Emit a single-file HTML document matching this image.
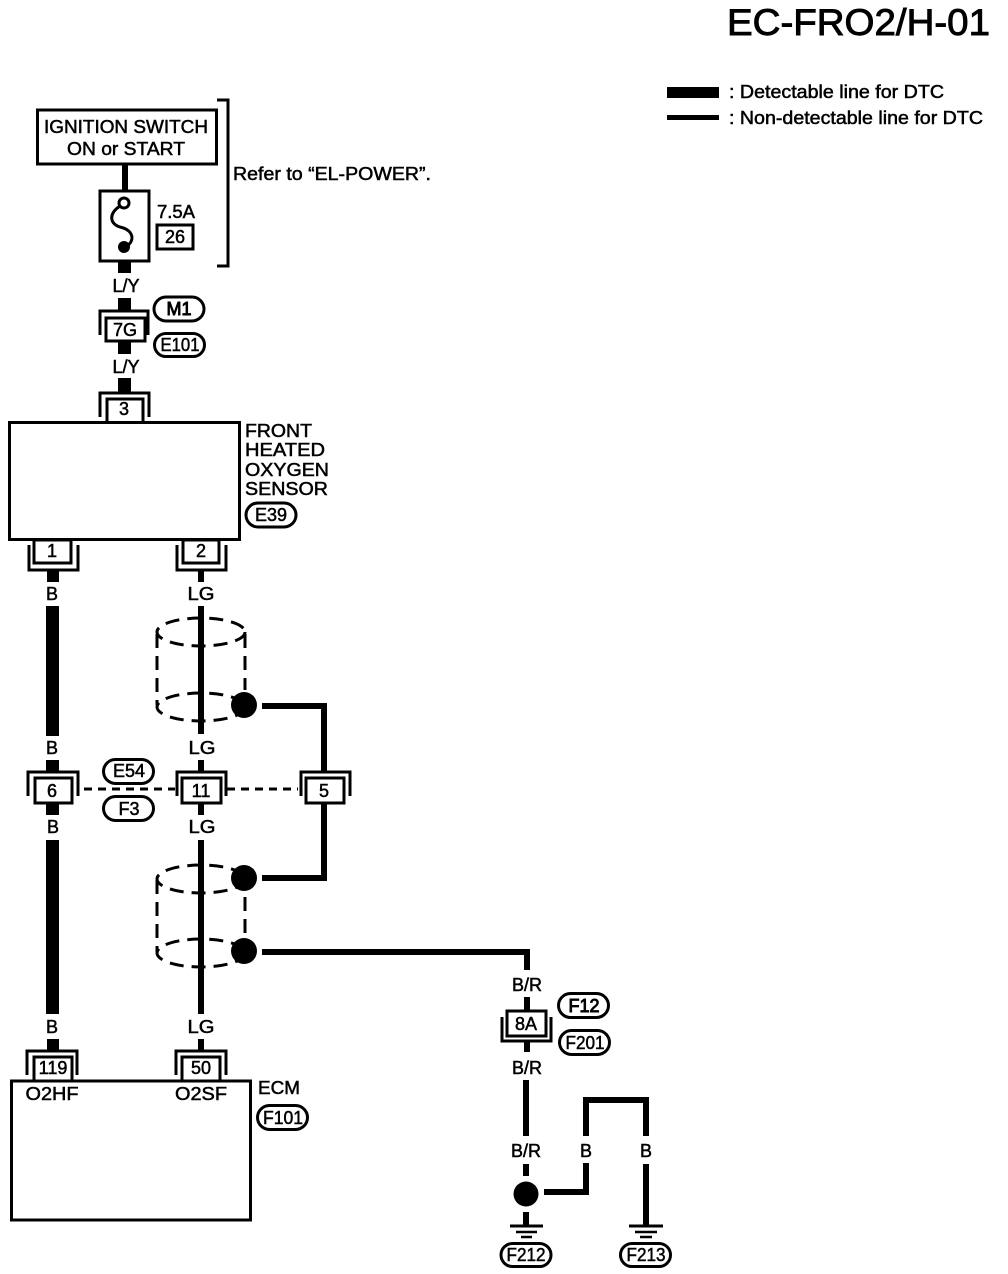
<!DOCTYPE html>
<html><head><meta charset="utf-8"><style>
html,body{margin:0;padding:0;background:#fff}
svg{display:block}
text{font-family:"Liberation Sans",sans-serif;font-size:18px;fill:#000;stroke:#000;stroke-width:.5px}
.m{text-anchor:middle}
.b{fill:#fff;stroke:#000;stroke-width:3}
.n{fill:none;stroke:#000;stroke-width:3}
.d{fill:none;stroke:#000;stroke-width:3;stroke-dasharray:14 8}
</style></head><body>
<svg width="1008" height="1274" viewBox="0 0 1008 1274" xmlns="http://www.w3.org/2000/svg">
<text x="727" y="35" style="font-size:37px;stroke-width:.9px" textLength="263" lengthAdjust="spacingAndGlyphs">EC-FRO2/H-01</text>
<rect x="667" y="87" width="52" height="11"/>
<rect x="667" y="115" width="52" height="5"/>
<text x="729" y="98" textLength="215" lengthAdjust="spacingAndGlyphs">: Detectable line for DTC</text>
<text x="729" y="124" textLength="254" lengthAdjust="spacingAndGlyphs">: Non-detectable line for DTC</text>

<rect x="37.5" y="110" width="179" height="54" class="b"/>
<text x="126" y="133" class="m" textLength="164" lengthAdjust="spacingAndGlyphs">IGNITION SWITCH</text>
<text x="126" y="155" class="m" textLength="118" lengthAdjust="spacingAndGlyphs">ON or START</text>
<path d="M217 100H228V266H217" class="n"/>
<text x="233" y="180" textLength="198" lengthAdjust="spacingAndGlyphs">Refer to “EL-POWER”.</text>

<rect x="122" y="164" width="6" height="27"/>
<rect x="100" y="191" width="49" height="70" class="b"/>
<circle cx="124" cy="203" r="5" class="b"/>
<path d="M120 206C108 214 110 224 120 227C133 230 136 240 126 247" class="n"/>
<circle cx="124" cy="247" r="6"/>
<rect x="118" y="261" width="13" height="12"/>
<text x="157" y="218" textLength="38" lengthAdjust="spacingAndGlyphs">7.5A</text>
<rect x="157" y="225" width="36" height="24" class="b"/>
<text x="175" y="243" class="m">26</text>
<text x="126" y="292" class="m">L/Y</text>
<rect x="118" y="298" width="13" height="13"/>
<path d="M100 335V311H148V335" class="n"/>
<rect x="106" y="318" width="39" height="23" class="b"/>
<text x="125" y="336" class="m">7G</text>
<rect x="118" y="342" width="13" height="12"/>
<text x="126" y="373" class="m">L/Y</text>
<rect x="118" y="378" width="13" height="14"/>
<path d="M100 417V393H149V417" class="n"/>
<rect x="107" y="399" width="36" height="24" class="b"/>
<text x="124" y="415" class="m">3</text>

<rect x="9.5" y="422.5" width="230" height="117" class="b"/>
<text x="245" y="437" textLength="67" lengthAdjust="spacingAndGlyphs">FRONT</text>
<text x="245" y="456" textLength="80" lengthAdjust="spacingAndGlyphs">HEATED</text>
<text x="245" y="476" textLength="84" lengthAdjust="spacingAndGlyphs">OXYGEN</text>
<text x="245" y="495" textLength="83" lengthAdjust="spacingAndGlyphs">SENSOR</text>
<rect x="246" y="503" width="50" height="24" rx="12" class="b"/>
<text x="271" y="521" class="m">E39</text>

<rect x="34" y="540" width="37" height="23" class="b"/>
<text x="52" y="557" class="m">1</text>
<path d="M29 545V570H78V545" class="n"/>
<rect x="183" y="540" width="36" height="23" class="b"/>
<text x="201" y="557" class="m">2</text>
<path d="M177 545V570H226V545" class="n"/>
<rect x="47" y="570" width="12" height="12"/>
<text x="52" y="600" class="m">B</text>
<rect x="46" y="606" width="13" height="130"/>
<text x="52" y="754" class="m">B</text>
<rect x="46" y="760" width="13" height="12"/>
<rect x="198" y="570" width="6" height="12"/>
<text x="201" y="600" class="m" textLength="27" lengthAdjust="spacingAndGlyphs">LG</text>
<rect x="198" y="606" width="6" height="128"/>
<text x="202" y="754" class="m" textLength="27" lengthAdjust="spacingAndGlyphs">LG</text>
<rect x="198" y="760" width="6" height="12"/>

<ellipse cx="201" cy="632" rx="44" ry="14" class="d"/>
<ellipse cx="201" cy="707" rx="44" ry="14" class="d"/>
<path d="M157 634V705M245 634V690" class="d"/>
<circle cx="244" cy="705" r="13"/>
<path d="M262 706H324V772" fill="none" stroke="#000" stroke-width="6"/>

<path d="M28 796V772H78V796" class="n"/>
<rect x="35" y="778" width="37" height="25" class="b"/>
<text x="52" y="797" class="m">6</text>
<path d="M177 796V772H226V796" class="n"/>
<rect x="182" y="778" width="39" height="25" class="b"/>
<text x="201" y="797" class="m">11</text>
<path d="M301 796V772H350V796" class="n"/>
<rect x="306" y="778" width="38" height="25" class="b"/>
<text x="324" y="797" class="m">5</text>
<path d="M84 789H175M227 789H298" fill="none" stroke="#000" stroke-width="3" stroke-dasharray="8 6"/>
<rect x="103.5" y="759.5" width="50" height="24" rx="12" class="b"/>
<text x="129" y="777" class="m">E54</text>
<rect x="103.5" y="796.5" width="50" height="24" rx="12" class="b"/>
<text x="129" y="815" class="m">F3</text>

<rect x="46" y="803" width="13" height="12"/>
<text x="53" y="833" class="m">B</text>
<rect x="46" y="840" width="13" height="174"/>
<text x="52" y="1033" class="m">B</text>
<rect x="47" y="1039" width="12" height="12"/>
<rect x="198" y="803" width="6" height="12"/>
<text x="202" y="833" class="m" textLength="27" lengthAdjust="spacingAndGlyphs">LG</text>
<rect x="198" y="840" width="6" height="174"/>
<text x="201" y="1033" class="m" textLength="27" lengthAdjust="spacingAndGlyphs">LG</text>
<rect x="198" y="1039" width="6" height="12"/>

<ellipse cx="201" cy="879" rx="44" ry="14" class="d"/>
<ellipse cx="201" cy="953" rx="44" ry="14" class="d"/>
<path d="M157 880V952M245 897V935" class="d"/>
<circle cx="244" cy="878" r="13"/>
<circle cx="244" cy="951" r="13"/>
<path d="M324 803V878H262" fill="none" stroke="#000" stroke-width="6"/>
<path d="M262 952H527V970" fill="none" stroke="#000" stroke-width="6"/>

<path d="M27 1075V1051H77V1075" class="n"/>
<rect x="34" y="1057" width="38" height="24" class="b"/>
<text x="53" y="1074" class="m">119</text>
<path d="M176 1075V1051H226V1075" class="n"/>
<rect x="182" y="1057" width="38" height="24" class="b"/>
<text x="201" y="1074" class="m">50</text>
<rect x="11.5" y="1081" width="239" height="139" class="b"/>
<text x="52" y="1100" class="m" textLength="53" lengthAdjust="spacingAndGlyphs">O2HF</text>
<text x="201" y="1100" class="m" textLength="52" lengthAdjust="spacingAndGlyphs">O2SF</text>
<text x="258" y="1094" textLength="42" lengthAdjust="spacingAndGlyphs">ECM</text>
<rect x="257.5" y="1105.5" width="50" height="24" rx="12" class="b"/>
<text x="283" y="1124" class="m" textLength="40" lengthAdjust="spacingAndGlyphs">F101</text>

<text x="527" y="991" class="m">B/R</text>
<rect x="524" y="997" width="6" height="14"/>
<rect x="507" y="1011" width="39" height="25" class="b"/>
<text x="526" y="1030" class="m">8A</text>
<path d="M502 1017V1041H551V1017" class="n"/>
<rect x="524" y="1041" width="6" height="11"/>
<text x="527" y="1074" class="m">B/R</text>
<rect x="523" y="1080" width="6" height="56"/>
<text x="526" y="1157" class="m">B/R</text>
<rect x="523" y="1164" width="6" height="12"/>
<circle cx="526" cy="1194" r="12.5"/>
<rect x="523" y="1212" width="6" height="14"/>
<path d="M510 1226H543" class="n"/>
<path d="M516 1232H537M521 1237H532" fill="none" stroke="#000" stroke-width="2.5"/>
<path d="M544 1192H586V1163" fill="none" stroke="#000" stroke-width="6"/>
<text x="586" y="1157" class="m">B</text>
<path d="M586 1136V1100H646V1136" fill="none" stroke="#000" stroke-width="6"/>
<text x="646" y="1157" class="m">B</text>
<rect x="643" y="1164" width="6" height="62"/>
<path d="M629 1226H663" class="n"/>
<path d="M635 1232H657M640 1237H652" fill="none" stroke="#000" stroke-width="2.5"/>

<rect x="558.5" y="993.5" width="50" height="24" rx="12" class="b"/>
<text x="584" y="1012" class="m" style="stroke-width:.9px">F12</text>
<rect x="559.5" y="1030.5" width="50" height="24" rx="12" class="b"/>
<text x="585" y="1049" class="m" textLength="39" lengthAdjust="spacingAndGlyphs">F201</text>
<rect x="501" y="1243.5" width="50" height="23" rx="11.5" class="b"/>
<text x="526" y="1261" class="m" textLength="39" lengthAdjust="spacingAndGlyphs">F212</text>
<rect x="620.5" y="1243.5" width="50" height="23" rx="11.5" class="b"/>
<text x="646" y="1261" class="m" textLength="39" lengthAdjust="spacingAndGlyphs">F213</text>
<rect x="154" y="297" width="50" height="24" rx="12" class="b"/>
<text x="179" y="315" class="m" style="stroke-width:.9px">M1</text>
<rect x="154.5" y="333.5" width="50" height="23" rx="11.5" class="b"/>
<text x="180" y="351" class="m" textLength="39" lengthAdjust="spacingAndGlyphs">E101</text>
</svg>
</body></html>
